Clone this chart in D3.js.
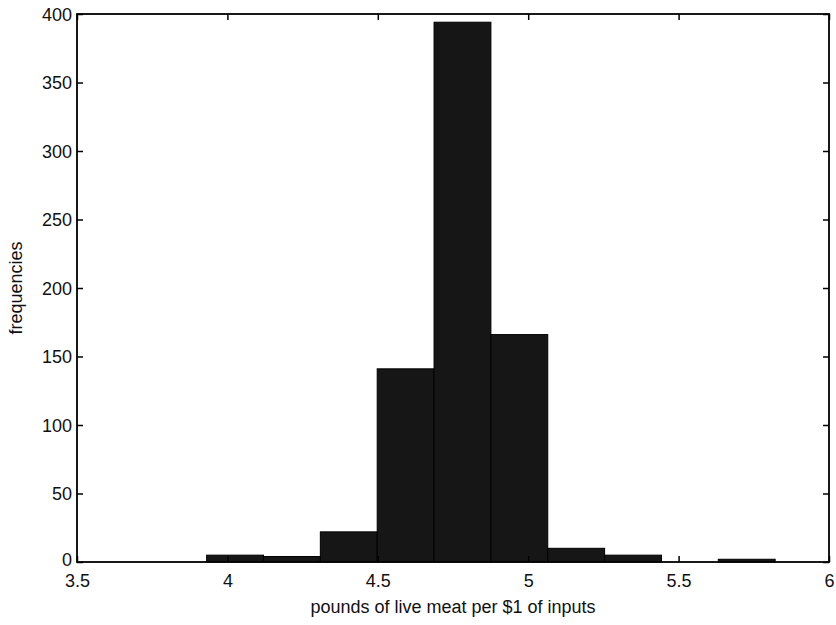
<!DOCTYPE html>
<html>
<head>
<meta charset="utf-8">
<script src="https://cdn.jsdelivr.net/npm/d3@7"></script>
<style>
  body { margin: 0; background: #fff; }
  text { font-family: "Liberation Sans", Arial, sans-serif; fill: #111; }
</style>
</head>
<body>
<div id="chart-area"></div>
<script>
// histogram bins (edges) and counts
const binEdges = [3.931, 4.120, 4.309, 4.498, 4.687, 4.876, 5.065, 5.254, 5.443, 5.632, 5.821];
const counts   = [5, 4, 22, 141, 394, 166, 10, 5, 0, 2];
const xTicks = [3.5, 4, 4.5, 5, 5.5, 6];
const yTicks = [0, 50, 100, 150, 200, 250, 300, 350, 400];

const MARGIN = {LEFT: 77, RIGHT: 7, TOP: 14, BOTTOM: 63};
const WIDTH = 836 - MARGIN.LEFT - MARGIN.RIGHT;
const HEIGHT = 625 - MARGIN.TOP - MARGIN.BOTTOM;

const svg = d3.select("#chart-area").append("svg")
    .attr("width", 836)
    .attr("height", 625);
const graph = svg.append("g")
    .attr("transform", `translate(${MARGIN.LEFT}, ${MARGIN.TOP})`);

const xScale = d3.scaleLinear().domain([3.5, 6]).range([0, WIDTH]);
const yScale = d3.scaleLinear().domain([0, 400]).range([HEIGHT, 0]);

const bins = counts.map((c, i) => ({x0: binEdges[i], x1: binEdges[i + 1], n: c}));

// bars
graph.selectAll("rect.bar")
    .data(bins.filter(d => d.n > 0))
    .enter().append("rect")
    .attr("class", "bar")
    .attr("x", d => xScale(d.x0))
    .attr("width", d => xScale(d.x1) - xScale(d.x0))
    .attr("y", d => yScale(d.n))
    .attr("height", d => yScale(0) - yScale(d.n))
    .attr("fill", "#161616")
    .attr("stroke", "#000")
    .attr("stroke-width", 1);

// axes, ticks pointing inward like matlab
const fmt = d => String(d);
const xAxisCall = d3.axisBottom(xScale).tickValues(xTicks).tickFormat(fmt).tickSizeInner(-6).tickSizeOuter(0).tickPadding(12);
const xTopCall = d3.axisTop(xScale).tickValues(xTicks).tickFormat("").tickSizeInner(-6).tickSizeOuter(0);
const yAxisCall = d3.axisLeft(yScale).tickValues(yTicks).tickFormat(fmt).tickSizeInner(-6).tickSizeOuter(0).tickPadding(5);
const yRightCall = d3.axisRight(yScale).tickValues(yTicks).tickFormat("").tickSizeInner(-6).tickSizeOuter(0);

graph.append("g").attr("transform", `translate(0, ${HEIGHT})`).call(xAxisCall);
graph.append("g").call(xTopCall);
const yAxis = graph.append("g").call(yAxisCall);
graph.append("g").attr("transform", `translate(${WIDTH}, 0)`).call(yRightCall);

graph.selectAll(".domain").remove();
graph.selectAll(".tick line").attr("stroke", "#000").attr("stroke-width", 1.5);
graph.selectAll(".tick text").style("font-size", "18px").attr("fill", "#111");
yAxis.selectAll(".tick text").attr("dy", d => d === 0 ? "0.2em" : "0.36em");

// box
graph.append("rect")
    .attr("x", 0).attr("y", 0)
    .attr("width", WIDTH).attr("height", HEIGHT)
    .attr("fill", "none")
    .attr("stroke", "#000")
    .attr("stroke-width", 1.8);

// labels
svg.append("text")
    .attr("x", MARGIN.LEFT + WIDTH / 2)
    .attr("y", 613)
    .attr("text-anchor", "middle")
    .style("font-size", "18px")
    .text("pounds of live meat per $1 of inputs");

svg.append("text")
    .attr("transform", `translate(22, ${MARGIN.TOP + HEIGHT / 2}) rotate(-90)`)
    .attr("text-anchor", "middle")
    .style("font-size", "18px")
    .text("frequencies");
</script>
</body>
</html>
